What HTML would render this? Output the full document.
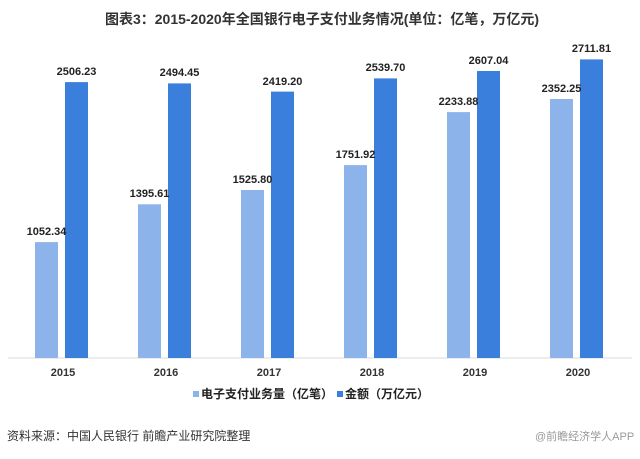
<!DOCTYPE html>
<html><head><meta charset="utf-8"><style>
body{margin:0;width:640px;height:454px;background:#fff;overflow:hidden;font-family:"Liberation Sans","Noto Sans CJK SC",sans-serif}
</style></head><body>
<svg width="640" height="454" xmlns="http://www.w3.org/2000/svg" font-family="Liberation Sans, Noto Sans CJK SC, sans-serif">
<text x="322" y="24" text-anchor="middle" font-size="14" font-weight="bold" fill="#333">图表3：2015-2020年全国银行电子支付业务情况(单位：亿笔，万亿元)</text>
<line x1="8" y1="358" x2="632" y2="358" stroke="#d9d9d9"/>
<g fill="#8db4ea">
<rect x="35" y="242.1" width="23" height="115.9"/>
<rect x="138" y="204.3" width="23" height="153.7"/>
<rect x="241" y="190" width="23" height="168"/>
<rect x="344" y="165.1" width="23" height="192.9"/>
<rect x="447" y="112.1" width="23" height="245.9"/>
<rect x="550" y="99" width="23" height="259"/>
</g>
<g fill="#3b7fdc">
<rect x="65" y="82.1" width="23" height="275.9"/>
<rect x="168" y="83.4" width="23" height="274.6"/>
<rect x="271" y="91.6" width="23" height="266.4"/>
<rect x="374" y="78.4" width="23" height="279.6"/>
<rect x="477" y="71" width="23" height="287"/>
<rect x="580" y="59.4" width="23" height="298.6"/>
</g>
<g font-size="11" font-weight="bold" fill="#222" text-anchor="middle">
<text x="46.5" y="235">1052.34</text>
<text x="149.5" y="197">1395.61</text>
<text x="252.5" y="183">1525.80</text>
<text x="355.5" y="158">1751.92</text>
<text x="458.5" y="105">2233.88</text>
<text x="561.5" y="92">2352.25</text>
<text x="76.5" y="75">2506.23</text>
<text x="179.5" y="76">2494.45</text>
<text x="282.5" y="85">2419.20</text>
<text x="385.5" y="71">2539.70</text>
<text x="488.5" y="64">2607.04</text>
<text x="591.5" y="52">2711.81</text>
</g>
<g font-size="11" font-weight="bold" fill="#333" text-anchor="middle">
<text x="63" y="376">2015</text><text x="166" y="376">2016</text><text x="269" y="376">2017</text>
<text x="372" y="376">2018</text><text x="475" y="376">2019</text><text x="578" y="376">2020</text>
</g>
<rect x="193" y="391" width="6" height="6" fill="#8db4ea"/>
<text x="201" y="398" font-size="12" font-weight="bold" fill="#222">电子支付业务量（亿笔）</text>
<rect x="337" y="391" width="6" height="6" fill="#3b7fdc"/>
<text x="345" y="398" font-size="12" font-weight="bold" fill="#222">金额（万亿元）</text>
<text x="7" y="440" font-size="12" fill="#333">资料来源：中国人民银行 前瞻产业研究院整理</text>
<text x="535" y="440" font-size="11" fill="#999">@前瞻经济学人APP</text>
</svg>
</body></html>
